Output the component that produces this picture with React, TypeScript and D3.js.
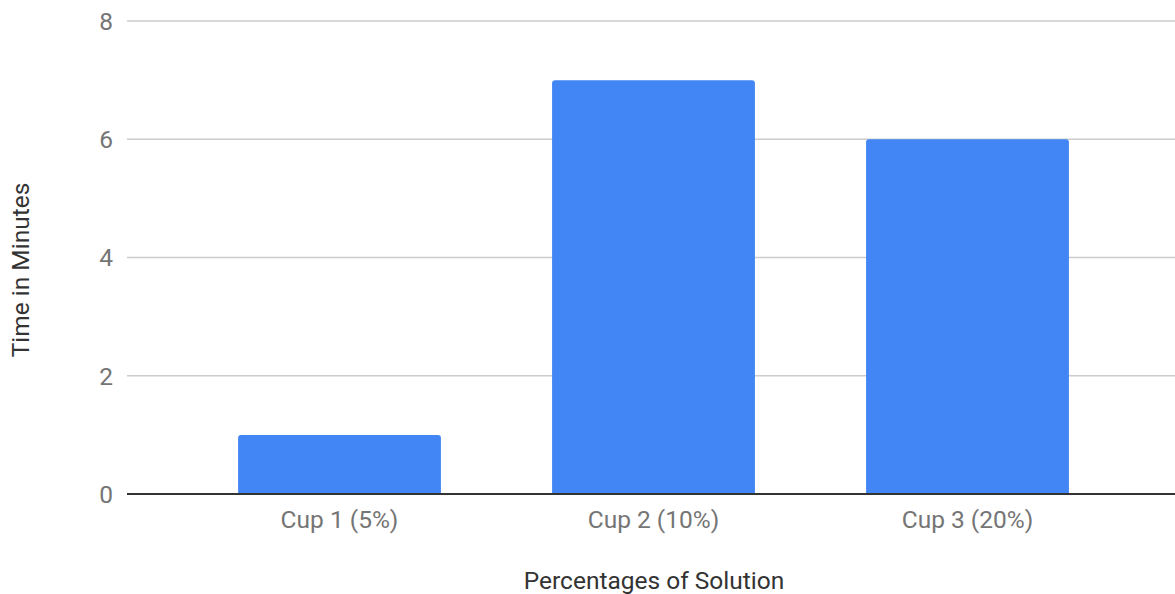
import React from "react";
import * as d3 from "d3";

const categories = ["Cup 1 (5%)", "Cup 2 (10%)", "Cup 3 (20%)"];
const values = [1, 7, 6];
const yTicks = [0, 2, 4, 6, 8];
const xTitle = "Percentages of Solution";
const yTitle = "Time in Minutes";

const W = 1175;
const H = 594;
const plotLeft = 127;
const plotRight = 1175;
const plotTop = 21;
const plotBottom = 494;

function roundedTopBar(x: number, y: number, w: number, h: number, r: number) {
  const rr = Math.min(r, h, w / 2);
  return `M${x},${y + h}V${y + rr}Q${x},${y} ${x + rr},${y}H${x + w - rr}Q${x + w},${y} ${x + w},${y + rr}V${y + h}Z`;
}

export default function App() {
  const x = d3
    .scaleBand<string>()
    .domain(categories)
    .range([182.5, 1124.5])
    .paddingInner(0.354)
    .paddingOuter(0.177);
  const y = d3.scaleLinear().domain([0, 8]).range([plotBottom, plotTop]);
  const font = "Roboto, 'Noto Sans', sans-serif";
  const grey = "#757575";
  const fs = 24.5;

  return (
    <svg
      width={W}
      height={H}
      style={{ position: "absolute", left: 0, top: 0, background: "#fff" }}
      fontFamily={font}
    >
      {yTicks.map((t) => (
        <g key={t}>
          {t !== 0 && (
            <line x1={plotLeft} x2={plotRight} y1={y(t)} y2={y(t)} stroke="#cccccc" strokeWidth={1.5} />
          )}
          <text x={113} y={y(t)} dy="0.36em" textAnchor="end" fontSize={fs} fill={grey}>
            {t}
          </text>
        </g>
      ))}
      {categories.map((c, i) => (
        <path
          key={c}
          d={roundedTopBar(x(c)!, y(values[i]), x.bandwidth(), y(0) - y(values[i]), 3)}
          fill="#4285F4"
        />
      ))}
      <line x1={plotLeft} x2={plotRight} y1={y(0)} y2={y(0)} stroke="#333333" strokeWidth={2} />
      {categories.map((c) => (
        <text
          key={c}
          x={x(c)! + x.bandwidth() / 2}
          y={528}
          textAnchor="middle"
          fontSize={fs}
          fill={grey}
        >
          {c}
        </text>
      ))}
      <text x={654} y={589} textAnchor="middle" fontSize={fs} fill="#333">
        {xTitle}
      </text>
      <text
        transform={`translate(29,270) rotate(-90)`}
        textAnchor="middle"
        fontSize={fs}
        fill="#333"
      >
        {yTitle}
      </text>
    </svg>
  );
}
